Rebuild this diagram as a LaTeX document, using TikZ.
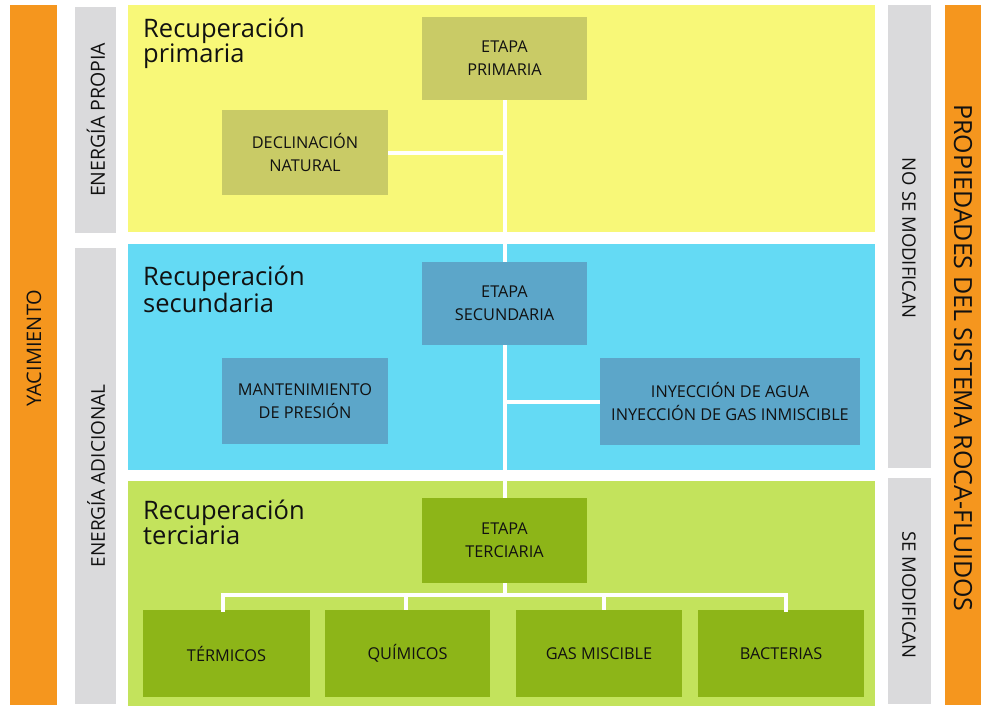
\documentclass[tikz,border=0pt]{standalone}
\usepackage{fontspec}
\setmainfont{Open Sans}
\definecolor{orangebar}{HTML}{F5961E}
\definecolor{graybar}{HTML}{DADADC}
\definecolor{yellowpanel}{HTML}{F8F878}
\definecolor{bluepanel}{HTML}{64DAF4}
\definecolor{greenpanel}{HTML}{C3E35C}
\definecolor{primbox}{HTML}{C9CB66}
\definecolor{secbox}{HTML}{5CA6C9}
\definecolor{terbox}{HTML}{8DB518}
\definecolor{txt}{HTML}{111111}
\begin{document}
\begin{tikzpicture}[x=1pt,y=-1pt,
  box/.style={rectangle, inner sep=0pt, text=txt, align=center, font=\fontsize{16.3}{23}\selectfont},
  link/.style={draw=white, line width=4pt},
  title/.style={anchor=north west, align=left, inner sep=0pt, text=txt, font=\fontsize{25.5}{25}\selectfont},
  sidetxt/.style={text=txt, inner sep=0pt}]
\useasboundingbox (0,0) rectangle (981,707);
\fill[white] (0,0) rectangle (981,707);
% side bars
\fill[orangebar] (10,5) rectangle (57,705);
\fill[graybar] (75,7) rectangle (116,233);
\fill[graybar] (75,248) rectangle (116,704);
\fill[graybar] (888,5) rectangle (931,468);
\fill[graybar] (888,478) rectangle (931,704);
\fill[orangebar] (945,5) rectangle (981,705);
% panels
\fill[yellowpanel] (128,5) rectangle (875,232);
\fill[bluepanel] (128,244) rectangle (875,470);
\fill[greenpanel] (128,481) rectangle (875,706);
% side labels
\node[sidetxt, rotate=90, font=\fontsize{20}{20}\selectfont] (yac) at (34,348) {YACIMIENTO};
\node[sidetxt, rotate=90, font=\fontsize{19.5}{19.5}\selectfont] (epro) at (96,120) {ENERGÍA PROPIA};
\node[sidetxt, rotate=90, font=\fontsize{19}{19}\selectfont] (eadi) at (96,476) {ENERGÍA ADICIONAL};
\node[sidetxt, rotate=-90, font=\fontsize{18.5}{18.5}\selectfont] (nosm) at (909,238) {NO SE MODIFICAN};
\node[sidetxt, rotate=-90, font=\fontsize{18.5}{18.5}\selectfont] (sm) at (909,595) {SE MODIFICAN};
\node[sidetxt, rotate=-90, font=\fontsize{25}{25}\selectfont] (prop) at (963,358) {PROPIEDADES DEL SISTEMA ROCA-FLUIDOS};
% titles
\node[title] (t1) at (143,18) {Recuperación\\primaria};
\node[title] (t2) at (143,266) {Recuperación\\secundaria};
\node[title] (t3) at (143,500) {Recuperación\\terciaria};
% boxes
\node[box, fill=primbox, minimum width=165pt, minimum height=83pt] (prim) at (504.5,58.5) {ETAPA\\PRIMARIA};
\node[box, fill=primbox, minimum width=166pt, minimum height=85pt] (decl) at (305,152.5) {DECLINACIÓN\\NATURAL};
\node[box, fill=secbox, minimum width=165pt, minimum height=83pt] (sec) at (504.5,303.5) {ETAPA\\SECUNDARIA};
\node[box, fill=secbox, minimum width=166pt, minimum height=86pt] (mant) at (305,401) {MANTENIMIENTO\\DE PRESIÓN};
\node[box, fill=secbox, minimum width=260pt, minimum height=87pt] (iny) at (730,401.5) {INYECCIÓN DE AGUA\\INYECCIÓN DE GAS INMISCIBLE};
\node[box, fill=terbox, minimum width=165pt, minimum height=85pt] (ter) at (504.5,540.5) {ETAPA\\TERCIARIA};
\node[box, fill=terbox, minimum width=167pt, minimum height=87pt] (term) at (226.5,653.5) {TÉRMICOS};
\node[box, fill=terbox, minimum width=165pt, minimum height=87pt] (quim) at (407.5,653.5) {QUÍMICOS};
\node[box, fill=terbox, minimum width=166pt, minimum height=87pt] (gas) at (599,653.5) {GAS MISCIBLE};
\node[box, fill=terbox, minimum width=166pt, minimum height=87pt] (bact) at (781,653.5) {BACTERIAS};
% connectors
\coordinate (tree) at (504.5,595);
\draw[link] (prim.south) -- (sec.north);
\draw[link] (sec.south) -- (ter.north);
\draw[link] (decl.east) -- (decl.east -| prim.south);
\draw[link] (iny.west -| sec.south) -- (iny.west);
\draw[link] (ter.south) -- (tree);
\draw[link, line cap=rect] ([xshift=-4pt]term.north) -- ([xshift=-4pt]term.north |- tree) -- ([xshift=5pt]bact.north |- tree) -- ([xshift=5pt]bact.north);
\draw[link] ([xshift=-2pt]quim.north |- tree) -- ([xshift=-2pt]quim.north);
\draw[link] ([xshift=5pt]gas.north |- tree) -- ([xshift=5pt]gas.north);
\end{tikzpicture}
\end{document}
